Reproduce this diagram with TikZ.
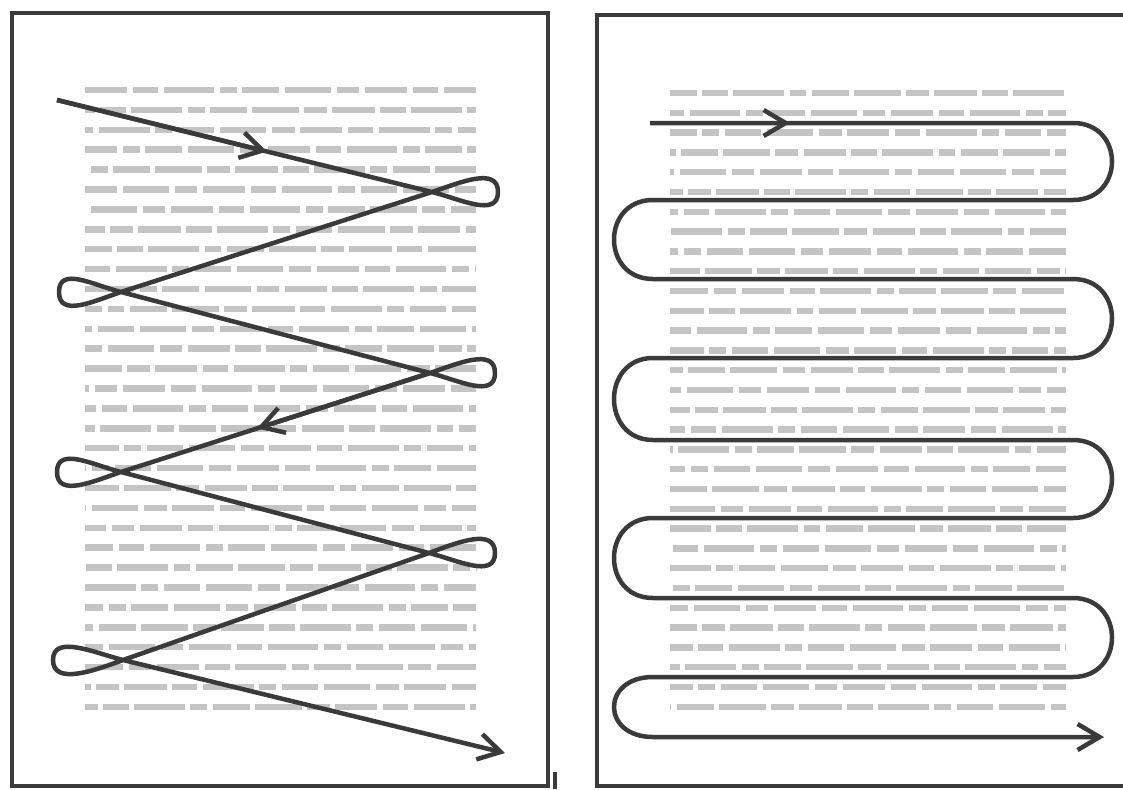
\documentclass[tikz,border=0pt]{standalone}
\usetikzlibrary{arrows.meta,calc}

\definecolor{ink}{HTML}{3A3A3A}
\definecolor{print}{HTML}{C4C4C4}

\begin{document}
\begin{tikzpicture}[x=0.025cm, y=-0.025cm,
  page/.style={draw=ink, line width=2.2pt},
  textline/.style={draw=print, line width=4.6pt,
    dash pattern=on 30pt off 4pt on 18pt off 4pt on 36pt off 4pt on 12pt off 4pt on 26pt off 4pt on 33pt off 4pt on 16pt off 4pt},
  route/.style={draw=ink, line width=3.2pt, line join=round},
  tip/.style={-{Straight Barb[length=5.5mm, width=6.5mm]}}
]
\useasboundingbox (0,0) rectangle (1123,789);
\clip (0,0) rectangle (1123,789);

% pages
\draw[page] (12,13) rectangle (548,786);
\draw[page] (597,15) rectangle (1140,786);
\draw[ink, line width=3pt] (555,772) -- (555,789);

% printed lines
\foreach \i in {0,...,31}{
  \pgfmathsetmacro\pha{mod(\i*23,173)}
  \pgfmathsetmacro\phb{mod(\i*31+11,173)}
  \draw[textline, dash phase=\pha pt] (85,{90+\i*19.9}) -- (476,{90+\i*19.9});
  \draw[textline, dash phase=\phb pt] (670,{93+\i*19.8}) -- (1066,{93+\i*19.8});
}

% zigzag reading
\coordinate (S)  at (57,100);
\coordinate (R1) at (432,192);
\coordinate (L1) at (121,292);
\coordinate (R2) at (430,373);
\coordinate (L2) at (121,472);
\coordinate (R3) at (429,553);
\coordinate (L3) at (123,660);
\coordinate (T)  at (505,753);

\draw[route, tip] (S) -- (R1)
  .. controls +(28,7) and +(0,26) .. (498,192) .. controls +(0,-26) and +(27,-9) .. (R1)
  -- (L1)
  .. controls +(-27,9) and +(0,26) .. (59,292) .. controls +(0,-26) and +(-28,-7) .. (L1)
  -- (R2)
  .. controls +(28,7) and +(0,26) .. (495,373) .. controls +(0,-26) and +(27,-9) .. (R2)
  -- (L2)
  .. controls +(-27,9) and +(0,26) .. (57,472) .. controls +(0,-26) and +(-28,-7) .. (L2)
  -- (R3)
  .. controls +(28,7) and +(0,26) .. (495,553) .. controls +(0,-26) and +(27,-10) .. (R3)
  -- (L3)
  .. controls +(-27,10) and +(0,26) .. (53,660) .. controls +(0,-26) and +(-28,-7) .. (L3)
  -- (T);
\draw[route, tip] (S) -- ($(S)!0.56!(R1)$);
\draw[route, tip] (R2) -- ($(R2)!0.56!(L2)$);

% serpentine reading
\coordinate (B0) at (650,123);
\coordinate (B9) at (1104,737);

\draw[route, tip] (B0) -- (1073,123)
  .. controls +(52,0) and +(52,0) .. (1073,200) -- (653,200)
  .. controls +(-52,0) and +(-52,0) .. (653,279) -- (1073,279)
  .. controls +(52,0) and +(52,0) .. (1073,358) -- (653,358)
  .. controls +(-52,0) and +(-52,0) .. (653,440) -- (1073,440)
  .. controls +(52,0) and +(52,0) .. (1073,518) -- (653,518)
  .. controls +(-52,0) and +(-52,0) .. (653,598) -- (1073,598)
  .. controls +(52,0) and +(52,0) .. (1073,677) -- (653,677)
  .. controls +(-52,0) and +(-52,0) .. (653,737) -- (B9);
\draw[route, tip] (B0) -- (790,123);

\end{tikzpicture}
\end{document}
